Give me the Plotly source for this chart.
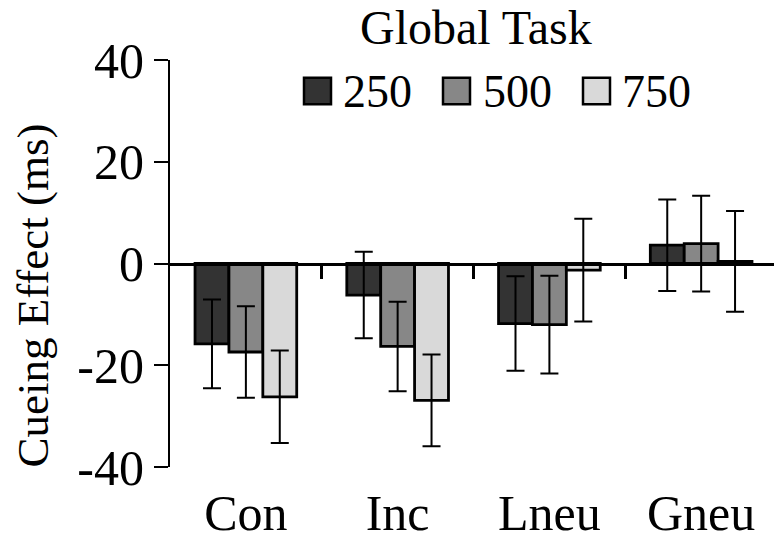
import plotly.graph_objects as go

categories = ["Con", "Inc", "Lneu", "Gneu"]
series_names = ["250", "500", "750"]
vals_250 = [-15.8, -6.2, -11.8, 3.6]
err_250 = [8.7, 8.5, 9.3, 9.0]
vals_500 = [-17.4, -16.3, -12.0, 3.9]
err_500 = [9.0, 8.8, 9.6, 9.4]
vals_750 = [-26.2, -26.9, -1.3, 0.4]
err_750 = [9.1, 9.0, 10.1, 9.9]
y_ticks = [-40, -20, 0, 20, 40]
legend_title = "Global Task"
y_title = "Cueing Effect (ms)"

colors = ["#333333", "#878787", "#d9d9d9"]
FONT = "Liberation Serif, Times New Roman, serif"

W, H = 774, 541
ML, MR, MT, MB = 170, 0, 60, 68
PW, PH = W - ML - MR, H - MT - MB

def px2paper(px, py):
    return (px - ML) / PW, (H - MB - py) / PH

xpos = list(range(len(categories)))
fig = go.Figure()
for name, v, e, c in zip(series_names, [vals_250, vals_500, vals_750],
                         [err_250, err_500, err_750], colors):
    fig.add_trace(go.Bar(
        x=xpos, y=v, name=name,
        marker=dict(color=c, line=dict(color="black", width=2.8)),
        error_y=dict(type="data", array=e, visible=True, color="black",
                     thickness=2, width=9),
        showlegend=False,
    ))

cat_w = PW / 3.98
xr = [-0.5, -0.5 + PW / cat_w]

# boundary ticks axis along y=0
fig.add_trace(go.Scatter(x=[0], y=[0], xaxis="x2", mode="markers",
                         marker=dict(opacity=0), showlegend=False,
                         hoverinfo="skip"))

fig.update_layout(
    width=W, height=H,
    margin=dict(l=ML, r=MR, t=MT, b=MB, pad=0),
    paper_bgcolor="white", plot_bgcolor="white",
    barmode="group", bargap=0.33, bargroupgap=0,
    font=dict(family=FONT, color="black"),
    xaxis=dict(range=xr, tickvals=xpos, ticktext=categories,
               showline=False, ticks="", showgrid=False, zeroline=False,
               tickfont=dict(size=50, family=FONT), ticklabelstandoff=12),
    xaxis2=dict(range=xr, overlaying="x", anchor="free", position=0.5,
                side="bottom", showline=True, linecolor="black", linewidth=3,
                ticks="outside", ticklen=13, tickwidth=2.5, tickcolor="black",
                tickvals=[0.5, 1.5, 2.5], showticklabels=False,
                showgrid=False, zeroline=False),
    yaxis=dict(range=[-40, 40], tickvals=y_ticks,
               ticktext=[str(t) for t in y_ticks],
               showline=True, linecolor="black", linewidth=2,
               ticks="outside", ticklen=14, tickwidth=2, tickcolor="black",
               showgrid=False, zeroline=False,
               tickfont=dict(size=50, family=FONT), ticklabelstandoff=0),
)

# legend (manual, large swatches)
sw_left = [304, 443, 583]
txt_left = [341, 481, 620]
sw_top, sw_bot = 78, 105
for name, c, sx, tx in zip(series_names, colors, sw_left, txt_left):
    x0, y0 = px2paper(sx, sw_bot)
    x1, y1 = px2paper(sx + 27, sw_top)
    fig.add_shape(type="rect", xref="paper", yref="paper", x0=x0, x1=x1,
                  y0=y0, y1=y1, fillcolor=c,
                  line=dict(color="black", width=2.5))
    ax, ay = px2paper(tx, 92)
    fig.add_annotation(xref="paper", yref="paper", x=ax, y=ay, text=name,
                       showarrow=False, xanchor="left", yanchor="middle",
                       font=dict(size=46, family=FONT, color="black"))

tx, ty = px2paper(476, 27)
fig.add_annotation(xref="paper", yref="paper", x=tx, y=ty, text=legend_title,
                   showarrow=False, xanchor="center", yanchor="middle",
                   font=dict(size=48, family=FONT, color="black"))

yx, yy = px2paper(33, 299)
fig.add_annotation(xref="paper", yref="paper", x=yx, y=yy, text=y_title,
                   showarrow=False, xanchor="center", yanchor="middle",
                   textangle=-90,
                   font=dict(size=45, family=FONT, color="black"))

fig.write_html("out.html")
